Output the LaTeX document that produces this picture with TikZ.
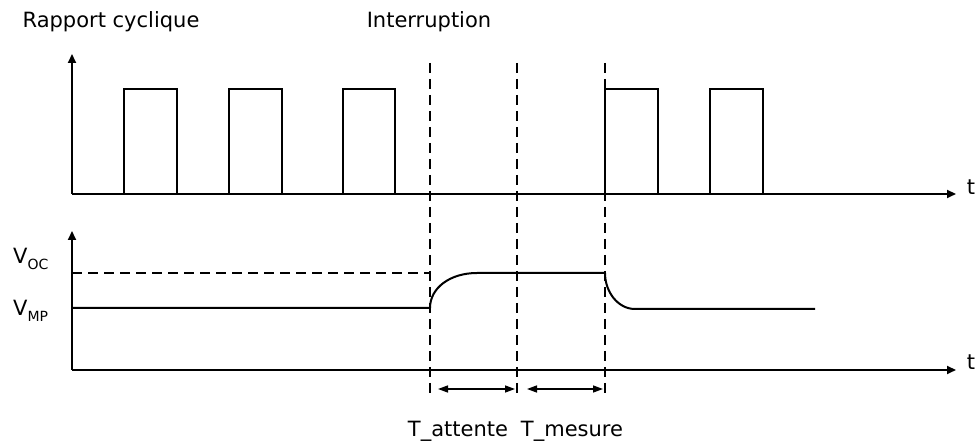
\documentclass[tikz,border=0pt]{standalone}
\usepackage{fontspec}
\setmainfont{DejaVu Sans}
\usetikzlibrary{arrows.meta}
\begin{document}
\begin{tikzpicture}[x=1pt,y=1pt,
  ax/.style={line width=2pt,-{Stealth[length=9pt,width=8pt,inset=0pt]}},
  sig/.style={line width=2pt},
  dsh/.style={line width=2pt,dash pattern=on 10pt off 6pt},
  dim/.style={line width=1.4pt,{Stealth[length=10pt,width=7pt,inset=0pt]}-{Stealth[length=10pt,width=7pt,inset=0pt]}},
  lbl/.style={inner sep=0pt,anchor=base,font=\fontsize{21}{21}\selectfont},
  vlbl/.style={inner sep=0pt,anchor=base west,font=\fontsize{21}{21}\selectfont}]
\useasboundingbox (0,0) rectangle (980,446);
% top plot
\coordinate (o1) at (72,252);
\coordinate (y1) at (72,392);
\coordinate (x1) at (956,252);
\draw[ax] (o1) -- (y1);
\draw[ax] (o1) -- (x1);
\foreach \a/\b in {124/177,229/282,343/395,605/658,710/763}
  \draw[sig] (\a,252) -- (\a,357) -- (\b,357) -- (\b,252);
\node[lbl] (t1) at (971,251) {t};
% bottom plot
\coordinate (o2) at (72,76);
\coordinate (y2) at (72,215);
\coordinate (x2) at (956,76);
\draw[ax] (o2) -- (y2);
\draw[ax] (o2) -- (x2);
\node[lbl] (t2) at (971,76) {t};
\coordinate (voc0) at (72,173);
\coordinate (vmp0) at (72,138);
\coordinate (s1) at (430,138);
\coordinate (s2) at (477,173);
\coordinate (s3) at (605,173);
\coordinate (s4) at (635,137);
\coordinate (s5) at (815,137);
\draw[dsh] (voc0) -- (430,173);
\draw[sig] (vmp0) -- (s1) .. controls (430,158) and (450,173) .. (s2) -- (s3)
  .. controls (605,154) and (618,137) .. (s4) -- (s5);
\node[vlbl] (voc) at (13,182) {V\raisebox{-6pt}{\fontsize{14}{14}\selectfont OC}};
\node[vlbl] (vmp) at (13,130) {V\raisebox{-6pt}{\fontsize{14}{14}\selectfont MP}};
% dashed markers
\foreach \n/\x in {a/430,b/517,c/605}{
  \coordinate (\n top) at (\x,383);
  \coordinate (\n bot) at (\x,51);
  \draw[dsh] (\n top) -- (\n bot);
}
\coordinate (d1) at (438,57);
\coordinate (d2) at (515,57);
\coordinate (d3) at (527,57);
\coordinate (d4) at (603,57);
\draw[dim] (d1) -- (d2);
\draw[dim] (d3) -- (d4);
% labels
\node[lbl] (rc) at (111,418) {Rapport cyclique};
\node[lbl] (ir) at (429,418) {Interruption};
\node[lbl] (ta) at (458,9) {T\_attente};
\node[lbl] (tm) at (572,9) {T\_mesure};
\end{tikzpicture}
\end{document}
